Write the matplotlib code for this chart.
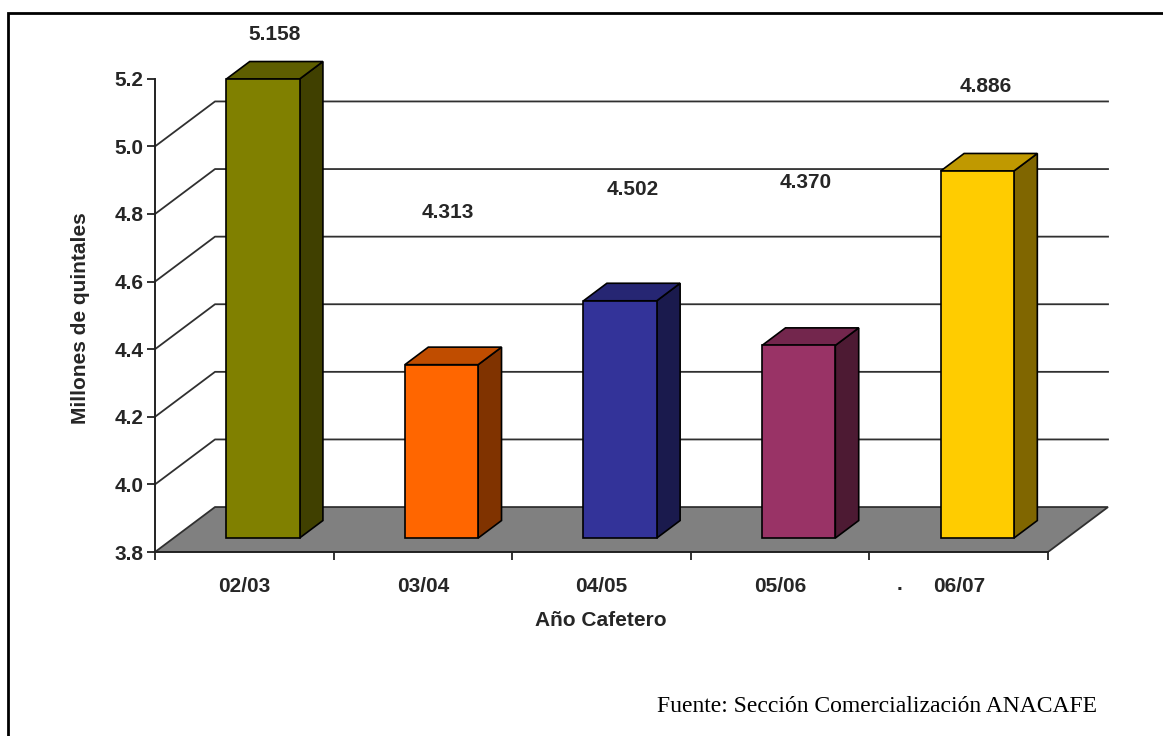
import matplotlib.pyplot as plt
from matplotlib.patches import Polygon, Rectangle

# datos
anios = ['02/03', '03/04', '04/05', '05/06', '06/07']
produccion = [5.158, 4.313, 4.502, 4.370, 4.886]  # millones de quintales
etiquetas = ['5.158', '4.313', '4.502', '4.370', '4.886']
# posicion de las etiquetas de valor (x en categorias, y en millones)
pos_etiq = [(0.672, 5.330), (1.640, 4.805), (2.676, 4.873), (3.644, 4.894), (4.653, 5.176)]

frente = ['#808000', '#FF6600', '#333399', '#993366', '#FFCC00']
arriba = ['#5E5E00', '#C04D00', '#262673', '#73264D', '#C09900']
lado = ['#404000', '#803300', '#1A1A4D', '#4D1A33', '#806600']

W, H = 1163, 736
BASE = 3.8
DX, DY = 0.336, 0.133    # fondo del grafico 3d
S, D = 0.31, 0.39        # posicion y profundidad de la barra
ANCHO = 0.41
FS = 15
TXT = '#262626'

fig = plt.figure(figsize=(W / 100, H / 100), dpi=100)
ax = fig.add_axes([155 / W, (H - 552) / H, 965 / W, 527 / H])
ax.set_xlim(0, 965 / 178.6)
ax.set_ylim(BASE, BASE + 527 / 338)

def fpx(x, y):
    return x / W, 1 - y / H

# piso
piso = Polygon([(0, BASE), (5, BASE), (5 + DX, BASE + DY), (DX, BASE + DY)],
               closed=True, facecolor='#808080', edgecolor='#303030', lw=1.3, zorder=1)
ax.add_patch(piso)

# lineas de division
for v in [4.0, 4.2, 4.4, 4.6, 4.8, 5.0]:
    ax.plot([0, DX, 5 + DX], [v, v + DY, v + DY], color='#303030', lw=1.3, zorder=1)

# barras
for i, v in enumerate(produccion):
    x0 = i + 0.5 - ANCHO / 2 + S * DX
    x1 = x0 + ANCHO
    yb = BASE + S * DY
    yt = v + S * DY
    dx, dy = D * DX, D * DY
    ax.add_patch(Polygon([(x1, yb), (x1 + dx, yb + dy), (x1 + dx, yt + dy), (x1, yt)],
                         facecolor=lado[i], edgecolor='black', lw=1.2, zorder=3))
    ax.add_patch(Polygon([(x0, yt), (x0 + dx, yt + dy), (x1 + dx, yt + dy), (x1, yt)],
                         facecolor=arriba[i], edgecolor='black', lw=1.2, zorder=3))
    ax.add_patch(Rectangle((x0, yb), ANCHO, yt - yb,
                           facecolor=frente[i], edgecolor='black', lw=1.2, zorder=4))
    ax.text(pos_etiq[i][0], pos_etiq[i][1], etiquetas[i], ha='center', va='center',
            fontsize=FS, fontweight='bold', family='Liberation Sans', color=TXT)

# ejes
for s in ['top', 'right']:
    ax.spines[s].set_visible(False)
ax.spines['left'].set_bounds(BASE, 5.2)
ax.spines['bottom'].set_bounds(0, 5)
for s in ['left', 'bottom']:
    ax.spines[s].set_linewidth(1.4)
    ax.spines[s].set_color('#222222')
ax.patch.set_visible(False)

ax.set_yticks([3.8, 4.0, 4.2, 4.4, 4.6, 4.8, 5.0, 5.2])
ax.set_yticklabels(['%.1f' % t for t in ax.get_yticks()])
ax.tick_params(axis='y', direction='out', length=6, width=1.3, pad=2,
               labelsize=FS, colors='#222222', labelcolor=TXT)
ax.set_xticks(range(6))
ax.set_xticklabels([])
ax.set_xticks([i + 0.5 for i in range(5)], minor=True)
ax.set_xticklabels(anios, minor=True)
ax.tick_params(axis='x', which='major', direction='out', length=6, width=1.3, colors='#222222')
ax.tick_params(axis='x', which='minor', length=0, pad=18, labelsize=FS, labelcolor=TXT)
for lb in ax.get_yticklabels() + ax.get_xticklabels(minor=True):
    lb.set_fontweight('bold')
    lb.set_family('Liberation Sans')

fig.text(*fpx(900, 585), '.', ha='center', va='center', fontsize=FS,
         fontweight='bold', family='Liberation Sans', color=TXT)

fig.text(*fpx(601, 620), 'Año Cafetero', ha='center', va='center', fontsize=FS,
         fontweight='bold', family='Liberation Sans', color=TXT)
fig.text(*fpx(80, 318), 'Millones de quintales', ha='center', va='center', rotation=90,
         fontsize=FS, fontweight='bold', family='Liberation Sans', color=TXT)
fig.text(*fpx(1097, 707), 'Fuente: Sección Comercialización ANACAFE', ha='right', va='center',
         fontsize=17, family='Liberation Serif', color='black')

# marco (solo se ven el borde superior e izquierdo)
fig.add_artist(Rectangle((8 / W, -0.05), 1.1, 1.05 - 13 / H,
                         transform=fig.transFigure, fill=False, edgecolor='black', lw=2))

fig.savefig('out.png', dpi=100)
